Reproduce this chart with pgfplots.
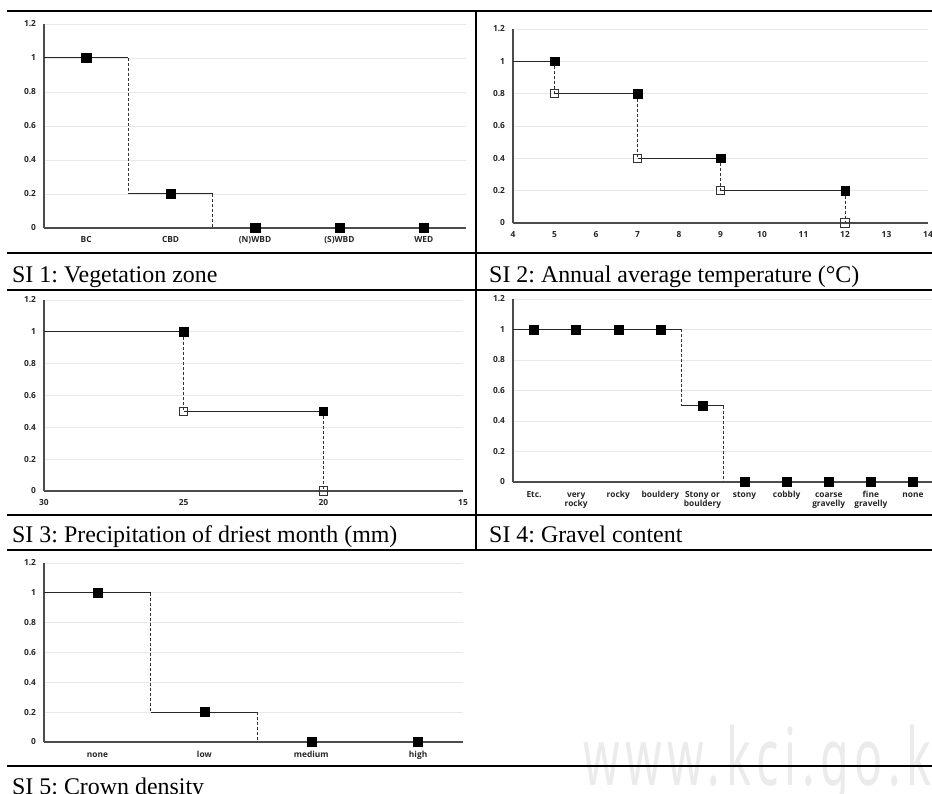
\documentclass[border=0pt]{standalone}
\usepackage{fontspec}
\setmainfont{Liberation Serif}
\newfontfamily\tickfont{Open Sans}
\newfontfamily\wmfont{Noto Sans}[LetterSpace=12]
\usepackage{pgfplots}
\pgfplotsset{compat=1.18}
\frenchspacing
\newcommand\st{\rule{0pt}{7bp}}
\pgfplotsset{
  si/.style={
    scale only axis, anchor=south west, clip=false,
    axis lines=left, axis line style={-, line width=1.1bp, black!70},
    ymin=0, ymax=1.2,
    ytick={0,0.2,0.4,0.6,0.8,1,1.2},
    yticklabels={0,0.2,0.4,0.6,0.8,1,1.2},
    ymajorgrids, grid style={black!9, line width=0.7bp},
    major tick length=0pt,
    /pgf/number format/assume math mode=true,
    tick label style={font=\tickfont\bfseries\fontsize{8.4}{8.8}\selectfont, black!85},
    xticklabel style={anchor=base, yshift=-15bp},
    yticklabel style={xshift=-4.5bp},
  },
  st/.style={black!85, line width=1bp, forget plot},
  ds/.style={black!80, line width=1bp, dash pattern=on 3bp off 2bp, forget plot},
  fm/.style={only marks, mark=square*, mark size=#1, mark options={fill=black, draw=black}},
  om/.style={only marks, mark=square, mark size=#1, mark options={fill=white, draw=black!80, line width=0.8bp}},
}
\begin{document}
\begin{tikzpicture}
\useasboundingbox (0,0) rectangle (932bp,794bp);
% watermark
\node[anchor=base west, inner sep=0, text=black!8, xscale=0.585] at (583bp,9bp) {\wmfont\fontsize{80}{80}\selectfont www.kci.go.k};
% table rules
\begin{scope}[line width=1.2bp, black]
\draw (7bp,783bp) -- (932bp,783bp);
\draw (7bp,541bp) -- (932bp,541bp);
\draw (7bp,504bp) -- (932bp,504bp);
\draw (7bp,279bp) -- (932bp,279bp);
\draw (7bp,244bp) -- (932bp,244bp);
\draw (7bp,28bp) -- (932bp,28bp);
\draw (476bp,244bp) -- (476bp,783bp);
\end{scope}
% captions
\begin{scope}[every node/.style={anchor=base west, inner sep=0, font=\fontsize{24}{26}\selectfont}]
\node at (12bp,511bp) {SI 1: Vegetation zone};
\node at (489bp,511bp) {SI 2: Annual average temperature (\textdegree C)};
\node at (12bp,251bp) {SI 3: Precipitation of driest month (mm)};
\node at (489bp,251bp) {SI 4: Gravel content};
\node at (12bp,0bp) {SI 5: Crown density};
\end{scope}

% SI 1
\begin{axis}[si, at={(44bp,566bp)}, width=422bp, height=204bp,
  xmin=-0.5, xmax=4.5, xtick={0,1,2,3,4},
  xticklabels={BC,CBD,(N)WBD,(S)WBD,WED}]
\addplot[st] coordinates {(-0.5,1) (0.5,1)};
\addplot[st] coordinates {(0.5,0.2) (1.5,0.2)};
\addplot[ds] coordinates {(0.5,1) (0.5,0.2)};
\addplot[ds] coordinates {(1.5,0.2) (1.5,0)};
\addplot[fm=4.7bp] coordinates {(0,1) (1,0.2) (2,0) (3,0) (4,0)};
\end{axis}

% SI 2
\begin{axis}[si, at={(513bp,571bp)}, width=415bp, height=194bp,
  xmin=4, xmax=14, xtick={4,5,6,7,8,9,10,11,12,13,14}]
\addplot[st] coordinates {(4,1) (5,1)};
\addplot[st] coordinates {(5,0.8) (7,0.8)};
\addplot[st] coordinates {(7,0.4) (9,0.4)};
\addplot[st] coordinates {(9,0.2) (12,0.2)};
\addplot[ds] coordinates {(5,1) (5,0.8)};
\addplot[ds] coordinates {(7,0.8) (7,0.4)};
\addplot[ds] coordinates {(9,0.4) (9,0.2)};
\addplot[ds] coordinates {(12,0.2) (12,0)};
\addplot[fm=4.2bp] coordinates {(5,1) (7,0.8) (9,0.4) (12,0.2)};
\addplot[om=4.2bp] coordinates {(5,0.8) (7,0.4) (9,0.2) (12,0)};
\end{axis}

% SI 3
\begin{axis}[si, at={(44bp,303bp)}, width=419bp, height=191bp,
  xmin=15, xmax=30, x dir=reverse, xtick={15,20,25,30}]
\addplot[st] coordinates {(30,1) (25,1)};
\addplot[st] coordinates {(25,0.5) (20,0.5)};
\addplot[ds] coordinates {(25,1) (25,0.5)};
\addplot[ds] coordinates {(20,0.5) (20,0)};
\addplot[fm=4.2bp] coordinates {(25,1) (20,0.5)};
\addplot[om=4.2bp] coordinates {(25,0.5) (20,0)};
\end{axis}

% SI 4
\begin{axis}[si, at={(513bp,312bp)}, width=421bp, height=183bp,
  xmin=-0.5, xmax=9.5, xtick={0,1,2,3,4,5,6,7,8,9},
  xticklabel style={align=center, anchor=north, yshift=10bp},
  xticklabels={\st Etc.,{\st very\\rocky},\st rocky,\st bouldery,{\st Stony or\\bouldery},\st stony,\st cobbly,{\st coarse\\gravelly},{\st fine\\gravelly},\st none}]
\addplot[st] coordinates {(-0.5,1) (3.5,1)};
\addplot[st] coordinates {(3.5,0.5) (4.5,0.5)};
\addplot[ds] coordinates {(3.5,1) (3.5,0.5)};
\addplot[ds] coordinates {(4.5,0.5) (4.5,0)};
\addplot[fm=4.5bp] coordinates {(0,1) (1,1) (2,1) (3,1) (4,0.5) (5,0) (6,0) (7,0) (8,0) (9,0)};
\end{axis}

% SI 5
\begin{axis}[si, at={(44bp,52bp)}, width=419bp, height=179bp,
  xmin=-0.5, xmax=3.42, xtick={0,1,2,3},
  xticklabels={none,low,medium,high}]
\addplot[st] coordinates {(-0.5,1) (0.5,1)};
\addplot[st] coordinates {(0.5,0.2) (1.5,0.2)};
\addplot[ds] coordinates {(0.5,1) (0.5,0.2)};
\addplot[ds] coordinates {(1.5,0.2) (1.5,0)};
\addplot[fm=4.5bp] coordinates {(0,1) (1,0.2) (2,0) (3,0)};
\end{axis}
\end{tikzpicture}
\end{document}
